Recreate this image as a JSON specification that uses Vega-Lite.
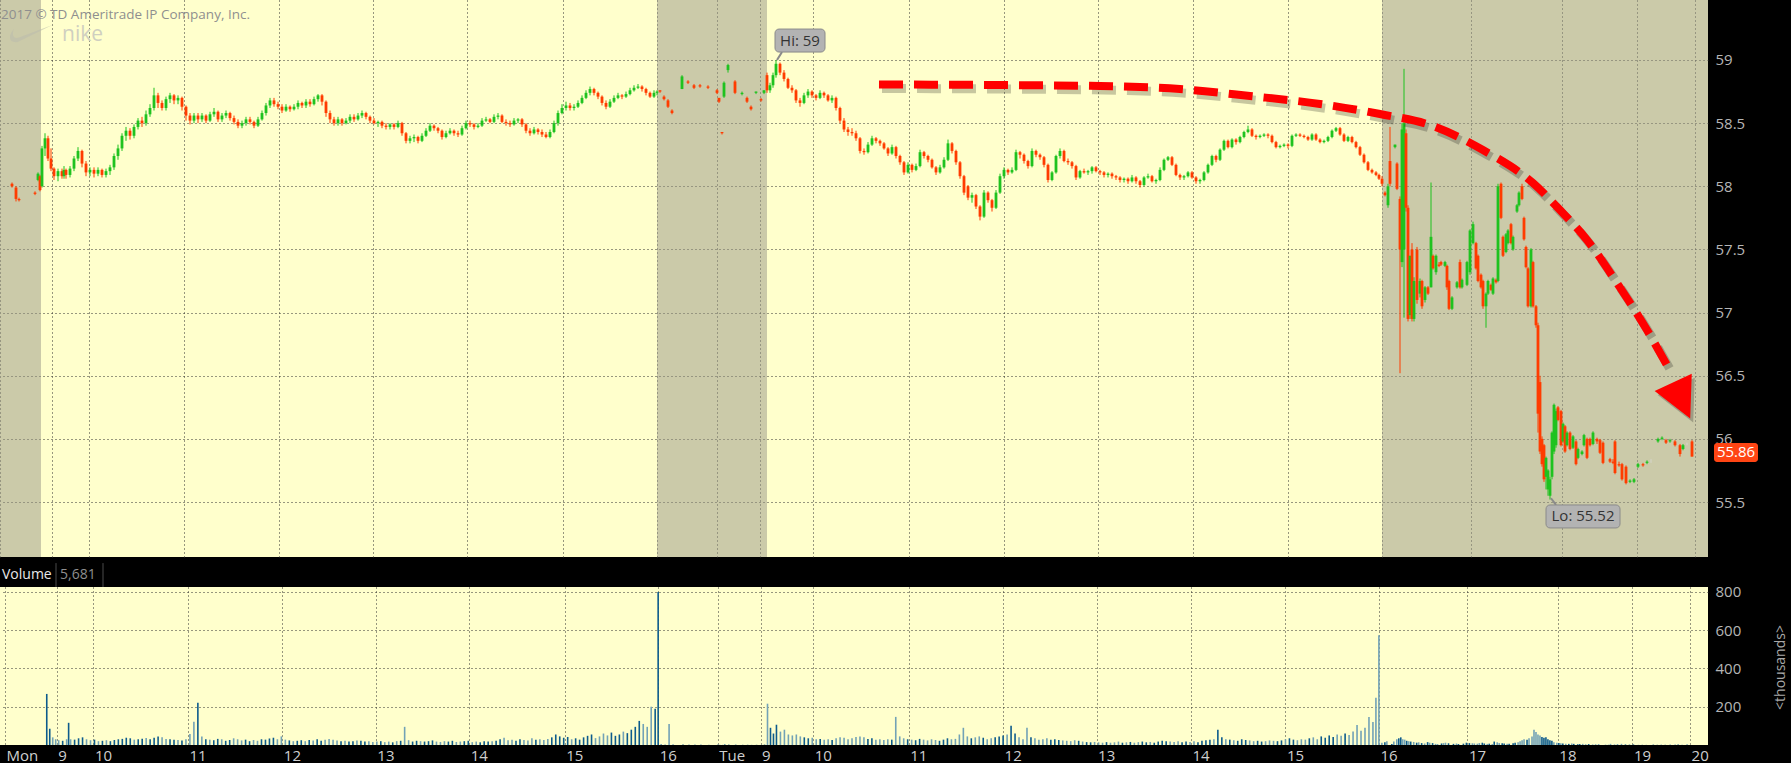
{
  "$schema": "https://vega.github.io/schema/vega-lite/v6.json",
  "background": "#000000",
  "padding": 0,
  "spacing": 30,
  "bounds": "flush",
  "config": {
    "font": "Open Sans",
    "axis": {"domain": false, "ticks": false, "gridColor": "#2e2e2e", "gridDash": [1, 3], "gridWidth": 1, "labelColor": "#b5b5b5", "labelFont": "Open Sans", "labelFontSize": 15, "titleColor": "#a8a8a8", "titleFont": "Open Sans", "titleFontSize": 14, "titleFontWeight": "normal"}
  },
  "datasets": {
    "candles": [
      {"t":12,"o":58.02,"h":58.03,"l":57.99,"c":58.0,"v":0},
      {"t":16,"o":57.99,"h":58.0,"l":57.88,"c":57.9,"v":0},
      {"t":19,"o":57.9,"h":57.91,"l":57.88,"c":57.89,"v":0},
      {"t":35,"o":57.95,"h":57.96,"l":57.93,"c":57.94,"v":0},
      {"t":38,"o":58.05,"h":58.11,"l":58.04,"c":58.1,"v":0},
      {"t":40,"o":58.08,"h":58.09,"l":57.96,"c":57.97,"v":0},
      {"t":42,"o":58.0,"h":58.32,"l":57.99,"c":58.3,"v":267},
      {"t":45,"o":58.3,"h":58.42,"l":58.24,"c":58.38,"v":85},
      {"t":48,"o":58.38,"h":58.4,"l":58.2,"c":58.22,"v":40},
      {"t":51,"o":58.22,"h":58.3,"l":58.12,"c":58.14,"v":30},
      {"t":54,"o":58.14,"h":58.15,"l":58.05,"c":58.08,"v":25},
      {"t":58,"o":58.08,"h":58.14,"l":58.04,"c":58.12,"v":22},
      {"t":62,"o":58.12,"h":58.14,"l":58.06,"c":58.08,"v":30},
      {"t":64,"o":58.08,"h":58.16,"l":58.06,"c":58.13,"v":116},
      {"t":66,"o":58.13,"h":58.14,"l":58.06,"c":58.09,"v":30},
      {"t":70,"o":58.09,"h":58.16,"l":58.07,"c":58.14,"v":28},
      {"t":74,"o":58.14,"h":58.24,"l":58.12,"c":58.22,"v":35},
      {"t":78,"o":58.22,"h":58.31,"l":58.2,"c":58.28,"v":40},
      {"t":82,"o":58.28,"h":58.29,"l":58.15,"c":58.18,"v":30},
      {"t":86,"o":58.18,"h":58.2,"l":58.08,"c":58.11,"v":25},
      {"t":90,"o":58.11,"h":58.15,"l":58.08,"c":58.13,"v":28},
      {"t":94,"o":58.13,"h":58.15,"l":58.07,"c":58.1,"v":20},
      {"t":98,"o":58.1,"h":58.15,"l":58.08,"c":58.13,"v":22},
      {"t":102,"o":58.13,"h":58.14,"l":58.07,"c":58.09,"v":25},
      {"t":106,"o":58.09,"h":58.14,"l":58.07,"c":58.12,"v":20},
      {"t":110,"o":58.12,"h":58.17,"l":58.09,"c":58.15,"v":26},
      {"t":114,"o":58.15,"h":58.26,"l":58.13,"c":58.24,"v":30},
      {"t":118,"o":58.24,"h":58.33,"l":58.21,"c":58.3,"v":32},
      {"t":122,"o":58.3,"h":58.42,"l":58.28,"c":58.4,"v":38},
      {"t":126,"o":58.4,"h":58.47,"l":58.36,"c":58.44,"v":35},
      {"t":130,"o":58.44,"h":58.46,"l":58.37,"c":58.4,"v":28},
      {"t":134,"o":58.4,"h":58.49,"l":58.38,"c":58.47,"v":30},
      {"t":138,"o":58.47,"h":58.54,"l":58.45,"c":58.52,"v":33},
      {"t":142,"o":58.52,"h":58.55,"l":58.47,"c":58.5,"v":36},
      {"t":146,"o":58.5,"h":58.6,"l":58.48,"c":58.57,"v":30},
      {"t":150,"o":58.57,"h":58.65,"l":58.55,"c":58.62,"v":38},
      {"t":154,"o":58.62,"h":58.78,"l":58.6,"c":58.72,"v":45},
      {"t":158,"o":58.72,"h":58.74,"l":58.62,"c":58.66,"v":40},
      {"t":162,"o":58.66,"h":58.68,"l":58.6,"c":58.62,"v":32},
      {"t":166,"o":58.62,"h":58.71,"l":58.6,"c":58.69,"v":30},
      {"t":170,"o":58.69,"h":58.74,"l":58.66,"c":58.72,"v":28},
      {"t":174,"o":58.72,"h":58.73,"l":58.65,"c":58.68,"v":26},
      {"t":178,"o":58.68,"h":58.72,"l":58.65,"c":58.7,"v":24},
      {"t":182,"o":58.7,"h":58.71,"l":58.6,"c":58.63,"v":30},
      {"t":186,"o":58.63,"h":58.64,"l":58.52,"c":58.56,"v":58},
      {"t":190,"o":58.56,"h":58.58,"l":58.49,"c":58.52,"v":121},
      {"t":194,"o":58.52,"h":58.58,"l":58.5,"c":58.56,"v":221},
      {"t":198,"o":58.56,"h":58.58,"l":58.5,"c":58.53,"v":45},
      {"t":202,"o":58.53,"h":58.58,"l":58.51,"c":58.56,"v":30},
      {"t":206,"o":58.56,"h":58.57,"l":58.5,"c":58.52,"v":28},
      {"t":210,"o":58.52,"h":58.59,"l":58.51,"c":58.57,"v":25},
      {"t":214,"o":58.57,"h":58.62,"l":58.55,"c":58.59,"v":32},
      {"t":218,"o":58.59,"h":58.6,"l":58.51,"c":58.53,"v":30},
      {"t":222,"o":58.53,"h":58.58,"l":58.51,"c":58.56,"v":22},
      {"t":226,"o":58.56,"h":58.6,"l":58.54,"c":58.58,"v":26},
      {"t":230,"o":58.58,"h":58.59,"l":58.52,"c":58.54,"v":35},
      {"t":234,"o":58.54,"h":58.56,"l":58.49,"c":58.51,"v":30},
      {"t":238,"o":58.51,"h":58.53,"l":58.46,"c":58.48,"v":24},
      {"t":242,"o":58.48,"h":58.52,"l":58.46,"c":58.5,"v":28},
      {"t":246,"o":58.5,"h":58.55,"l":58.48,"c":58.53,"v":20},
      {"t":250,"o":58.53,"h":58.55,"l":58.49,"c":58.51,"v":26},
      {"t":254,"o":58.51,"h":58.52,"l":58.46,"c":58.48,"v":22},
      {"t":258,"o":58.48,"h":58.55,"l":58.47,"c":58.53,"v":30},
      {"t":262,"o":58.53,"h":58.6,"l":58.52,"c":58.58,"v":28},
      {"t":266,"o":58.58,"h":58.66,"l":58.56,"c":58.64,"v":34},
      {"t":270,"o":58.64,"h":58.7,"l":58.62,"c":58.68,"v":38},
      {"t":274,"o":58.68,"h":58.7,"l":58.63,"c":58.65,"v":30},
      {"t":278,"o":58.65,"h":58.67,"l":58.61,"c":58.63,"v":45},
      {"t":282,"o":58.63,"h":58.65,"l":58.58,"c":58.6,"v":28},
      {"t":286,"o":58.6,"h":58.65,"l":58.59,"c":58.63,"v":24},
      {"t":290,"o":58.63,"h":58.64,"l":58.59,"c":58.61,"v":20},
      {"t":294,"o":58.61,"h":58.65,"l":58.6,"c":58.63,"v":22},
      {"t":298,"o":58.63,"h":58.68,"l":58.61,"c":58.66,"v":25},
      {"t":302,"o":58.66,"h":58.67,"l":58.62,"c":58.64,"v":20},
      {"t":306,"o":58.64,"h":58.69,"l":58.62,"c":58.67,"v":26},
      {"t":310,"o":58.67,"h":58.69,"l":58.63,"c":58.65,"v":24},
      {"t":314,"o":58.65,"h":58.71,"l":58.64,"c":58.69,"v":30},
      {"t":318,"o":58.69,"h":58.73,"l":58.67,"c":58.72,"v":22},
      {"t":322,"o":58.72,"h":58.73,"l":58.64,"c":58.67,"v":28},
      {"t":326,"o":58.67,"h":58.68,"l":58.55,"c":58.58,"v":32},
      {"t":330,"o":58.58,"h":58.6,"l":58.5,"c":58.53,"v":28},
      {"t":334,"o":58.53,"h":58.55,"l":58.48,"c":58.5,"v":24},
      {"t":338,"o":58.5,"h":58.55,"l":58.48,"c":58.53,"v":20},
      {"t":342,"o":58.53,"h":58.54,"l":58.48,"c":58.5,"v":22},
      {"t":346,"o":58.5,"h":58.54,"l":58.49,"c":58.52,"v":18},
      {"t":350,"o":58.52,"h":58.57,"l":58.5,"c":58.55,"v":20},
      {"t":354,"o":58.55,"h":58.57,"l":58.51,"c":58.53,"v":24},
      {"t":358,"o":58.53,"h":58.58,"l":58.52,"c":58.56,"v":22},
      {"t":362,"o":58.56,"h":58.6,"l":58.54,"c":58.58,"v":18},
      {"t":366,"o":58.58,"h":58.59,"l":58.53,"c":58.55,"v":20},
      {"t":370,"o":58.55,"h":58.56,"l":58.5,"c":58.52,"v":16},
      {"t":374,"o":58.52,"h":58.54,"l":58.49,"c":58.5,"v":18},
      {"t":378,"o":58.5,"h":58.52,"l":58.47,"c":58.51,"v":20},
      {"t":382,"o":58.51,"h":58.52,"l":58.46,"c":58.48,"v":15},
      {"t":386,"o":58.48,"h":58.5,"l":58.45,"c":58.47,"v":18},
      {"t":390,"o":58.47,"h":58.5,"l":58.45,"c":58.49,"v":14},
      {"t":394,"o":58.49,"h":58.5,"l":58.45,"c":58.47,"v":20},
      {"t":398,"o":58.47,"h":58.52,"l":58.46,"c":58.5,"v":22},
      {"t":402,"o":58.5,"h":58.51,"l":58.4,"c":58.42,"v":95},
      {"t":406,"o":58.42,"h":58.43,"l":58.34,"c":58.36,"v":25},
      {"t":410,"o":58.36,"h":58.4,"l":58.34,"c":58.38,"v":18},
      {"t":414,"o":58.38,"h":58.41,"l":58.35,"c":58.39,"v":22},
      {"t":418,"o":58.39,"h":58.4,"l":58.34,"c":58.36,"v":20},
      {"t":422,"o":58.36,"h":58.42,"l":58.35,"c":58.4,"v":18},
      {"t":426,"o":58.4,"h":58.46,"l":58.39,"c":58.44,"v":20},
      {"t":430,"o":58.44,"h":58.5,"l":58.43,"c":58.48,"v":24},
      {"t":434,"o":58.48,"h":58.49,"l":58.44,"c":58.46,"v":18},
      {"t":438,"o":58.46,"h":58.47,"l":58.42,"c":58.44,"v":16},
      {"t":442,"o":58.44,"h":58.45,"l":58.37,"c":58.39,"v":20},
      {"t":446,"o":58.39,"h":58.44,"l":58.38,"c":58.42,"v":18},
      {"t":450,"o":58.42,"h":58.46,"l":58.41,"c":58.44,"v":22},
      {"t":454,"o":58.44,"h":58.45,"l":58.4,"c":58.42,"v":16},
      {"t":458,"o":58.42,"h":58.44,"l":58.39,"c":58.41,"v":18},
      {"t":462,"o":58.41,"h":58.48,"l":58.4,"c":58.46,"v":20},
      {"t":466,"o":58.46,"h":58.52,"l":58.45,"c":58.5,"v":22},
      {"t":470,"o":58.5,"h":58.52,"l":58.47,"c":58.49,"v":15},
      {"t":474,"o":58.49,"h":58.5,"l":58.45,"c":58.47,"v":18},
      {"t":478,"o":58.47,"h":58.5,"l":58.46,"c":58.48,"v":14},
      {"t":482,"o":58.48,"h":58.54,"l":58.47,"c":58.52,"v":20},
      {"t":486,"o":58.52,"h":58.55,"l":58.51,"c":58.53,"v":18},
      {"t":490,"o":58.53,"h":58.54,"l":58.5,"c":58.51,"v":20},
      {"t":494,"o":58.51,"h":58.57,"l":58.5,"c":58.55,"v":22},
      {"t":498,"o":58.55,"h":58.58,"l":58.53,"c":58.56,"v":30},
      {"t":502,"o":58.56,"h":58.57,"l":58.5,"c":58.51,"v":38},
      {"t":506,"o":58.51,"h":58.53,"l":58.48,"c":58.5,"v":25},
      {"t":510,"o":58.5,"h":58.52,"l":58.47,"c":58.49,"v":28},
      {"t":514,"o":58.49,"h":58.54,"l":58.48,"c":58.52,"v":22},
      {"t":518,"o":58.52,"h":58.54,"l":58.5,"c":58.53,"v":30},
      {"t":522,"o":58.53,"h":58.54,"l":58.47,"c":58.49,"v":26},
      {"t":526,"o":58.49,"h":58.5,"l":58.42,"c":58.44,"v":24},
      {"t":530,"o":58.44,"h":58.46,"l":58.4,"c":58.42,"v":35},
      {"t":534,"o":58.42,"h":58.47,"l":58.41,"c":58.45,"v":28},
      {"t":538,"o":58.45,"h":58.46,"l":58.41,"c":58.43,"v":30},
      {"t":542,"o":58.43,"h":58.45,"l":58.39,"c":58.41,"v":26},
      {"t":546,"o":58.41,"h":58.43,"l":58.38,"c":58.39,"v":32},
      {"t":550,"o":58.39,"h":58.45,"l":58.38,"c":58.43,"v":40},
      {"t":554,"o":58.43,"h":58.52,"l":58.42,"c":58.5,"v":55},
      {"t":558,"o":58.5,"h":58.6,"l":58.48,"c":58.58,"v":45},
      {"t":562,"o":58.58,"h":58.65,"l":58.57,"c":58.62,"v":38},
      {"t":566,"o":58.62,"h":58.67,"l":58.6,"c":58.64,"v":42},
      {"t":570,"o":58.64,"h":58.66,"l":58.6,"c":58.62,"v":30},
      {"t":574,"o":58.62,"h":58.65,"l":58.6,"c":58.63,"v":35},
      {"t":578,"o":58.63,"h":58.68,"l":58.62,"c":58.66,"v":28},
      {"t":582,"o":58.66,"h":58.72,"l":58.65,"c":58.7,"v":40},
      {"t":586,"o":58.7,"h":58.76,"l":58.69,"c":58.74,"v":48},
      {"t":590,"o":58.74,"h":58.79,"l":58.72,"c":58.77,"v":55},
      {"t":594,"o":58.77,"h":58.78,"l":58.72,"c":58.74,"v":36},
      {"t":598,"o":58.74,"h":58.75,"l":58.69,"c":58.71,"v":45},
      {"t":602,"o":58.71,"h":58.72,"l":58.64,"c":58.66,"v":60},
      {"t":606,"o":58.66,"h":58.68,"l":58.61,"c":58.63,"v":50},
      {"t":610,"o":58.63,"h":58.69,"l":58.62,"c":58.67,"v":65},
      {"t":614,"o":58.67,"h":58.72,"l":58.66,"c":58.7,"v":48},
      {"t":618,"o":58.7,"h":58.74,"l":58.69,"c":58.72,"v":55},
      {"t":622,"o":58.72,"h":58.73,"l":58.69,"c":58.71,"v":70},
      {"t":626,"o":58.71,"h":58.75,"l":58.7,"c":58.73,"v":62},
      {"t":630,"o":58.73,"h":58.78,"l":58.72,"c":58.76,"v":80},
      {"t":634,"o":58.76,"h":58.8,"l":58.75,"c":58.78,"v":95},
      {"t":638,"o":58.78,"h":58.81,"l":58.77,"c":58.79,"v":126},
      {"t":642,"o":58.79,"h":58.8,"l":58.75,"c":58.77,"v":110},
      {"t":646,"o":58.77,"h":58.78,"l":58.72,"c":58.74,"v":95},
      {"t":650,"o":58.74,"h":58.75,"l":58.7,"c":58.71,"v":200},
      {"t":654,"o":58.71,"h":58.76,"l":58.7,"c":58.74,"v":190},
      {"t":657,"o":58.74,"h":58.76,"l":58.72,"c":58.75,"v":800},
      {"t":660,"o":58.76,"h":58.76,"l":58.74,"c":58.75,"v":5},
      {"t":664,"o":58.71,"h":58.72,"l":58.68,"c":58.69,"v":3},
      {"t":668,"o":58.68,"h":58.69,"l":58.62,"c":58.63,"v":110},
      {"t":672,"o":58.6,"h":58.61,"l":58.57,"c":58.58,"v":4},
      {"t":682,"o":58.77,"h":58.88,"l":58.77,"c":58.87,"v":3},
      {"t":688,"o":58.83,"h":58.84,"l":58.81,"c":58.82,"v":2},
      {"t":694,"o":58.8,"h":58.81,"l":58.77,"c":58.78,"v":2},
      {"t":700,"o":58.8,"h":58.81,"l":58.78,"c":58.79,"v":2},
      {"t":708,"o":58.79,"h":58.8,"l":58.77,"c":58.78,"v":1},
      {"t":717,"o":58.76,"h":58.77,"l":58.73,"c":58.74,"v":2},
      {"t":719,"o":58.7,"h":58.7,"l":58.66,"c":58.67,"v":1},
      {"t":722,"o":58.43,"h":58.43,"l":58.41,"c":58.42,"v":1},
      {"t":724,"o":58.71,"h":58.83,"l":58.7,"c":58.82,"v":3},
      {"t":728,"o":58.92,"h":58.97,"l":58.9,"c":58.96,"v":2},
      {"t":735,"o":58.83,"h":58.84,"l":58.73,"c":58.74,"v":3},
      {"t":742,"o":58.73,"h":58.75,"l":58.72,"c":58.74,"v":1},
      {"t":747,"o":58.7,"h":58.71,"l":58.66,"c":58.67,"v":2},
      {"t":751,"o":58.63,"h":58.64,"l":58.6,"c":58.61,"v":1},
      {"t":756,"o":58.74,"h":58.75,"l":58.73,"c":58.75,"v":1},
      {"t":761,"o":58.69,"h":58.7,"l":58.67,"c":58.68,"v":1},
      {"t":764,"o":58.74,"h":58.76,"l":58.73,"c":58.76,"v":2},
      {"t":767,"o":58.88,"h":58.9,"l":58.74,"c":58.76,"v":216},
      {"t":770,"o":58.76,"h":58.82,"l":58.74,"c":58.8,"v":90},
      {"t":773,"o":58.8,"h":58.9,"l":58.78,"c":58.88,"v":60},
      {"t":776,"o":58.88,"h":59.0,"l":58.86,"c":58.97,"v":106},
      {"t":780,"o":58.97,"h":58.98,"l":58.88,"c":58.9,"v":70},
      {"t":784,"o":58.9,"h":58.92,"l":58.83,"c":58.85,"v":80},
      {"t":788,"o":58.85,"h":58.86,"l":58.77,"c":58.78,"v":55},
      {"t":792,"o":58.78,"h":58.8,"l":58.74,"c":58.76,"v":50},
      {"t":796,"o":58.76,"h":58.77,"l":58.66,"c":58.68,"v":55},
      {"t":800,"o":58.68,"h":58.7,"l":58.63,"c":58.66,"v":45},
      {"t":804,"o":58.66,"h":58.74,"l":58.65,"c":58.72,"v":40},
      {"t":808,"o":58.72,"h":58.77,"l":58.7,"c":58.75,"v":35},
      {"t":812,"o":58.75,"h":58.76,"l":58.7,"c":58.72,"v":38},
      {"t":816,"o":58.72,"h":58.73,"l":58.68,"c":58.7,"v":30},
      {"t":820,"o":58.7,"h":58.76,"l":58.69,"c":58.74,"v":32},
      {"t":824,"o":58.74,"h":58.75,"l":58.7,"c":58.72,"v":28},
      {"t":828,"o":58.72,"h":58.73,"l":58.67,"c":58.68,"v":30},
      {"t":832,"o":58.68,"h":58.72,"l":58.66,"c":58.7,"v":26},
      {"t":836,"o":58.7,"h":58.71,"l":58.6,"c":58.62,"v":35},
      {"t":840,"o":58.62,"h":58.63,"l":58.5,"c":58.52,"v":40},
      {"t":844,"o":58.52,"h":58.54,"l":58.43,"c":58.45,"v":38},
      {"t":848,"o":58.45,"h":58.47,"l":58.4,"c":58.43,"v":30},
      {"t":852,"o":58.43,"h":58.46,"l":58.4,"c":58.42,"v":35},
      {"t":856,"o":58.42,"h":58.44,"l":58.36,"c":58.38,"v":42},
      {"t":860,"o":58.38,"h":58.39,"l":58.26,"c":58.28,"v":45},
      {"t":864,"o":58.28,"h":58.3,"l":58.25,"c":58.27,"v":40},
      {"t":868,"o":58.27,"h":58.35,"l":58.26,"c":58.33,"v":32},
      {"t":872,"o":58.33,"h":58.4,"l":58.32,"c":58.38,"v":35},
      {"t":876,"o":58.38,"h":58.39,"l":58.34,"c":58.36,"v":28},
      {"t":880,"o":58.36,"h":58.37,"l":58.32,"c":58.34,"v":30},
      {"t":884,"o":58.34,"h":58.35,"l":58.29,"c":58.3,"v":26},
      {"t":888,"o":58.3,"h":58.31,"l":58.24,"c":58.26,"v":30},
      {"t":892,"o":58.26,"h":58.33,"l":58.25,"c":58.31,"v":28},
      {"t":896,"o":58.31,"h":58.32,"l":58.22,"c":58.24,"v":147},
      {"t":900,"o":58.24,"h":58.25,"l":58.17,"c":58.19,"v":45},
      {"t":904,"o":58.19,"h":58.2,"l":58.09,"c":58.11,"v":35},
      {"t":908,"o":58.11,"h":58.19,"l":58.1,"c":58.17,"v":30},
      {"t":912,"o":58.17,"h":58.18,"l":58.11,"c":58.13,"v":28},
      {"t":916,"o":58.13,"h":58.18,"l":58.12,"c":58.16,"v":25},
      {"t":920,"o":58.16,"h":58.29,"l":58.15,"c":58.27,"v":32},
      {"t":924,"o":58.27,"h":58.28,"l":58.22,"c":58.24,"v":28},
      {"t":928,"o":58.24,"h":58.25,"l":58.19,"c":58.21,"v":24},
      {"t":932,"o":58.21,"h":58.22,"l":58.14,"c":58.15,"v":30},
      {"t":936,"o":58.15,"h":58.16,"l":58.09,"c":58.11,"v":26},
      {"t":940,"o":58.11,"h":58.17,"l":58.1,"c":58.15,"v":22},
      {"t":944,"o":58.15,"h":58.23,"l":58.14,"c":58.21,"v":28},
      {"t":948,"o":58.21,"h":58.37,"l":58.2,"c":58.34,"v":35},
      {"t":952,"o":58.34,"h":58.35,"l":58.26,"c":58.28,"v":30},
      {"t":956,"o":58.28,"h":58.29,"l":58.17,"c":58.19,"v":32},
      {"t":960,"o":58.19,"h":58.2,"l":58.06,"c":58.08,"v":55},
      {"t":964,"o":58.08,"h":58.09,"l":57.93,"c":57.95,"v":90},
      {"t":968,"o":58.0,"h":58.01,"l":57.89,"c":57.91,"v":45},
      {"t":972,"o":57.91,"h":57.95,"l":57.87,"c":57.93,"v":35},
      {"t":976,"o":57.93,"h":57.94,"l":57.82,"c":57.84,"v":40},
      {"t":980,"o":57.84,"h":57.85,"l":57.73,"c":57.76,"v":45},
      {"t":984,"o":57.76,"h":57.97,"l":57.75,"c":57.95,"v":38},
      {"t":988,"o":57.95,"h":57.96,"l":57.87,"c":57.89,"v":30},
      {"t":992,"o":57.89,"h":57.9,"l":57.8,"c":57.83,"v":35},
      {"t":996,"o":57.83,"h":57.97,"l":57.82,"c":57.95,"v":40},
      {"t":1000,"o":57.95,"h":58.1,"l":57.94,"c":58.08,"v":45},
      {"t":1004,"o":58.08,"h":58.15,"l":58.06,"c":58.13,"v":50},
      {"t":1008,"o":58.13,"h":58.14,"l":58.09,"c":58.11,"v":55},
      {"t":1012,"o":58.11,"h":58.15,"l":58.1,"c":58.13,"v":100},
      {"t":1016,"o":58.13,"h":58.29,"l":58.12,"c":58.27,"v":60},
      {"t":1020,"o":58.27,"h":58.28,"l":58.22,"c":58.25,"v":40},
      {"t":1024,"o":58.25,"h":58.26,"l":58.18,"c":58.2,"v":30},
      {"t":1028,"o":58.2,"h":58.21,"l":58.14,"c":58.16,"v":90},
      {"t":1032,"o":58.16,"h":58.3,"l":58.15,"c":58.28,"v":40},
      {"t":1036,"o":58.28,"h":58.29,"l":58.23,"c":58.25,"v":35},
      {"t":1040,"o":58.25,"h":58.26,"l":58.21,"c":58.23,"v":28},
      {"t":1044,"o":58.23,"h":58.24,"l":58.15,"c":58.17,"v":30},
      {"t":1048,"o":58.17,"h":58.18,"l":58.03,"c":58.05,"v":35},
      {"t":1052,"o":58.05,"h":58.12,"l":58.04,"c":58.11,"v":28},
      {"t":1056,"o":58.11,"h":58.25,"l":58.1,"c":58.24,"v":30},
      {"t":1060,"o":58.24,"h":58.3,"l":58.22,"c":58.28,"v":26},
      {"t":1064,"o":58.28,"h":58.29,"l":58.19,"c":58.2,"v":24},
      {"t":1068,"o":58.2,"h":58.22,"l":58.17,"c":58.19,"v":22},
      {"t":1072,"o":58.19,"h":58.2,"l":58.14,"c":58.16,"v":20},
      {"t":1076,"o":58.16,"h":58.17,"l":58.05,"c":58.07,"v":25},
      {"t":1080,"o":58.07,"h":58.13,"l":58.06,"c":58.12,"v":22},
      {"t":1084,"o":58.12,"h":58.14,"l":58.1,"c":58.11,"v":18},
      {"t":1088,"o":58.11,"h":58.13,"l":58.09,"c":58.12,"v":15},
      {"t":1092,"o":58.12,"h":58.16,"l":58.1,"c":58.15,"v":14},
      {"t":1096,"o":58.15,"h":58.16,"l":58.11,"c":58.12,"v":16},
      {"t":1100,"o":58.12,"h":58.13,"l":58.09,"c":58.11,"v":14},
      {"t":1104,"o":58.11,"h":58.12,"l":58.07,"c":58.09,"v":12},
      {"t":1108,"o":58.09,"h":58.11,"l":58.07,"c":58.1,"v":15},
      {"t":1112,"o":58.1,"h":58.11,"l":58.06,"c":58.08,"v":12},
      {"t":1116,"o":58.08,"h":58.09,"l":58.05,"c":58.07,"v":14},
      {"t":1120,"o":58.07,"h":58.08,"l":58.03,"c":58.05,"v":18},
      {"t":1124,"o":58.05,"h":58.07,"l":58.03,"c":58.06,"v":12},
      {"t":1128,"o":58.06,"h":58.07,"l":58.02,"c":58.04,"v":14},
      {"t":1132,"o":58.04,"h":58.09,"l":58.03,"c":58.07,"v":16},
      {"t":1136,"o":58.07,"h":58.08,"l":58.02,"c":58.04,"v":12},
      {"t":1140,"o":58.04,"h":58.05,"l":57.99,"c":58.01,"v":15},
      {"t":1144,"o":58.01,"h":58.08,"l":58.0,"c":58.07,"v":18},
      {"t":1148,"o":58.07,"h":58.1,"l":58.06,"c":58.08,"v":14},
      {"t":1152,"o":58.08,"h":58.09,"l":58.03,"c":58.04,"v":16},
      {"t":1156,"o":58.04,"h":58.06,"l":58.02,"c":58.05,"v":12},
      {"t":1160,"o":58.05,"h":58.15,"l":58.04,"c":58.13,"v":18},
      {"t":1164,"o":58.13,"h":58.22,"l":58.12,"c":58.21,"v":22},
      {"t":1168,"o":58.21,"h":58.24,"l":58.2,"c":58.23,"v":20},
      {"t":1172,"o":58.23,"h":58.24,"l":58.16,"c":58.17,"v":18},
      {"t":1176,"o":58.17,"h":58.18,"l":58.08,"c":58.09,"v":16},
      {"t":1180,"o":58.09,"h":58.1,"l":58.05,"c":58.07,"v":20},
      {"t":1184,"o":58.07,"h":58.09,"l":58.05,"c":58.08,"v":14},
      {"t":1188,"o":58.08,"h":58.12,"l":58.07,"c":58.11,"v":18},
      {"t":1192,"o":58.11,"h":58.12,"l":58.06,"c":58.07,"v":16},
      {"t":1196,"o":58.07,"h":58.08,"l":58.02,"c":58.04,"v":20},
      {"t":1200,"o":58.04,"h":58.06,"l":58.02,"c":58.05,"v":15},
      {"t":1204,"o":58.05,"h":58.12,"l":58.04,"c":58.11,"v":22},
      {"t":1208,"o":58.11,"h":58.18,"l":58.1,"c":58.17,"v":25},
      {"t":1212,"o":58.17,"h":58.25,"l":58.16,"c":58.24,"v":28},
      {"t":1216,"o":58.24,"h":58.25,"l":58.19,"c":58.21,"v":30},
      {"t":1220,"o":58.21,"h":58.3,"l":58.2,"c":58.29,"v":80},
      {"t":1224,"o":58.29,"h":58.37,"l":58.28,"c":58.36,"v":40},
      {"t":1228,"o":58.36,"h":58.37,"l":58.3,"c":58.31,"v":30},
      {"t":1232,"o":58.31,"h":58.38,"l":58.3,"c":58.37,"v":28},
      {"t":1236,"o":58.37,"h":58.38,"l":58.33,"c":58.35,"v":25},
      {"t":1240,"o":58.35,"h":58.4,"l":58.34,"c":58.39,"v":22},
      {"t":1244,"o":58.39,"h":58.44,"l":58.38,"c":58.43,"v":30},
      {"t":1248,"o":58.43,"h":58.48,"l":58.42,"c":58.45,"v":26},
      {"t":1252,"o":58.45,"h":58.46,"l":58.39,"c":58.4,"v":24},
      {"t":1256,"o":58.4,"h":58.41,"l":58.37,"c":58.39,"v":20},
      {"t":1260,"o":58.39,"h":58.41,"l":58.38,"c":58.4,"v":22},
      {"t":1264,"o":58.4,"h":58.42,"l":58.39,"c":58.41,"v":18},
      {"t":1268,"o":58.41,"h":58.42,"l":58.38,"c":58.4,"v":20},
      {"t":1272,"o":58.4,"h":58.41,"l":58.34,"c":58.35,"v":24},
      {"t":1276,"o":58.35,"h":58.36,"l":58.3,"c":58.31,"v":22},
      {"t":1280,"o":58.31,"h":58.33,"l":58.3,"c":58.32,"v":20},
      {"t":1284,"o":58.32,"h":58.34,"l":58.31,"c":58.33,"v":24},
      {"t":1288,"o":58.33,"h":58.34,"l":58.3,"c":58.32,"v":30},
      {"t":1292,"o":58.32,"h":58.41,"l":58.31,"c":58.4,"v":35},
      {"t":1296,"o":58.4,"h":58.42,"l":58.39,"c":58.41,"v":28},
      {"t":1300,"o":58.41,"h":58.42,"l":58.39,"c":58.4,"v":25},
      {"t":1304,"o":58.4,"h":58.41,"l":58.38,"c":58.39,"v":30},
      {"t":1308,"o":58.39,"h":58.4,"l":58.36,"c":58.37,"v":28},
      {"t":1312,"o":58.37,"h":58.42,"l":58.36,"c":58.41,"v":35},
      {"t":1316,"o":58.41,"h":58.42,"l":58.36,"c":58.37,"v":40},
      {"t":1320,"o":58.37,"h":58.38,"l":58.34,"c":58.35,"v":30},
      {"t":1324,"o":58.35,"h":58.37,"l":58.34,"c":58.36,"v":45},
      {"t":1328,"o":58.36,"h":58.4,"l":58.35,"c":58.39,"v":38},
      {"t":1332,"o":58.39,"h":58.45,"l":58.38,"c":58.44,"v":50},
      {"t":1336,"o":58.44,"h":58.47,"l":58.43,"c":58.46,"v":42},
      {"t":1340,"o":58.46,"h":58.47,"l":58.4,"c":58.41,"v":55},
      {"t":1344,"o":58.41,"h":58.42,"l":58.35,"c":58.36,"v":48},
      {"t":1348,"o":58.36,"h":58.4,"l":58.35,"c":58.39,"v":60},
      {"t":1352,"o":58.39,"h":58.4,"l":58.34,"c":58.35,"v":52},
      {"t":1356,"o":58.35,"h":58.36,"l":58.3,"c":58.31,"v":70},
      {"t":1360,"o":58.31,"h":58.32,"l":58.24,"c":58.25,"v":105},
      {"t":1364,"o":58.25,"h":58.26,"l":58.18,"c":58.19,"v":75},
      {"t":1368,"o":58.19,"h":58.2,"l":58.12,"c":58.13,"v":90},
      {"t":1372,"o":58.13,"h":58.14,"l":58.1,"c":58.11,"v":147},
      {"t":1376,"o":58.11,"h":58.12,"l":58.08,"c":58.09,"v":120},
      {"t":1379,"o":58.09,"h":58.1,"l":58.05,"c":58.06,"v":247},
      {"t":1382,"o":58.06,"h":58.08,"l":58.0,"c":58.02,"v":574},
      {"t":1385,"o":57.95,"h":57.96,"l":57.92,"c":57.93,"v":12},
      {"t":1388,"o":57.85,"h":58.02,"l":57.83,"c":58.0,"v":15},
      {"t":1390,"o":58.2,"h":58.47,"l":58.0,"c":58.02,"v":20},
      {"t":1395,"o":58.31,"h":58.33,"l":58.3,"c":58.33,"v":5},
      {"t":1397,"o":58.18,"h":58.19,"l":57.97,"c":57.98,"v":18},
      {"t":1400,"o":57.9,"h":57.92,"l":56.52,"c":57.5,"v":30},
      {"t":1402,"o":57.4,"h":58.5,"l":57.36,"c":58.45,"v":35},
      {"t":1404,"o":57.5,"h":58.93,"l":56.96,"c":58.5,"v":40},
      {"t":1406,"o":58.42,"h":58.45,"l":57.8,"c":57.83,"v":30},
      {"t":1408,"o":57.83,"h":57.85,"l":56.93,"c":56.95,"v":28},
      {"t":1410,"o":56.98,"h":57.45,"l":56.95,"c":57.45,"v":22},
      {"t":1412,"o":57.5,"h":57.55,"l":56.93,"c":56.95,"v":20},
      {"t":1414,"o":56.95,"h":57.28,"l":56.93,"c":57.25,"v":18},
      {"t":1417,"o":57.5,"h":57.52,"l":57.07,"c":57.1,"v":16},
      {"t":1420,"o":57.15,"h":57.27,"l":57.12,"c":57.25,"v":12},
      {"t":1422,"o":57.25,"h":57.26,"l":57.03,"c":57.05,"v":14},
      {"t":1425,"o":57.1,"h":57.21,"l":57.08,"c":57.2,"v":10},
      {"t":1428,"o":57.2,"h":57.21,"l":57.14,"c":57.15,"v":8},
      {"t":1431,"o":57.2,"h":58.03,"l":57.2,"c":57.6,"v":15},
      {"t":1433,"o":57.45,"h":57.46,"l":57.34,"c":57.35,"v":12},
      {"t":1436,"o":57.32,"h":57.46,"l":57.3,"c":57.45,"v":10},
      {"t":1439,"o":57.38,"h":57.4,"l":57.36,"c":57.37,"v":6},
      {"t":1441,"o":57.4,"h":57.41,"l":57.37,"c":57.38,"v":5},
      {"t":1445,"o":57.37,"h":57.41,"l":57.36,"c":57.4,"v":8},
      {"t":1447,"o":57.37,"h":57.38,"l":57.18,"c":57.2,"v":10},
      {"t":1449,"o":57.25,"h":57.26,"l":57.02,"c":57.03,"v":12},
      {"t":1452,"o":57.03,"h":57.13,"l":57.02,"c":57.12,"v":9},
      {"t":1457,"o":57.2,"h":57.25,"l":57.19,"c":57.24,"v":6},
      {"t":1460,"o":57.4,"h":57.42,"l":57.19,"c":57.2,"v":8},
      {"t":1462,"o":57.2,"h":57.27,"l":57.19,"c":57.26,"v":5},
      {"t":1467,"o":57.22,"h":57.41,"l":57.21,"c":57.4,"v":7},
      {"t":1470,"o":57.32,"h":57.66,"l":57.3,"c":57.65,"v":12},
      {"t":1473,"o":57.55,"h":57.72,"l":57.54,"c":57.7,"v":10},
      {"t":1476,"o":57.55,"h":57.56,"l":57.34,"c":57.35,"v":9},
      {"t":1478,"o":57.45,"h":57.46,"l":57.24,"c":57.25,"v":8},
      {"t":1481,"o":57.3,"h":57.31,"l":57.19,"c":57.2,"v":7},
      {"t":1483,"o":57.25,"h":57.26,"l":57.03,"c":57.05,"v":10},
      {"t":1486,"o":57.05,"h":57.16,"l":56.88,"c":57.15,"v":12},
      {"t":1488,"o":57.15,"h":57.26,"l":57.14,"c":57.25,"v":8},
      {"t":1491,"o":57.22,"h":57.23,"l":57.17,"c":57.18,"v":6},
      {"t":1493,"o":57.15,"h":57.28,"l":57.14,"c":57.27,"v":7},
      {"t":1496,"o":57.26,"h":57.27,"l":57.23,"c":57.24,"v":5},
      {"t":1498,"o":57.25,"h":58.02,"l":57.24,"c":58.0,"v":18},
      {"t":1501,"o":58.02,"h":58.03,"l":57.74,"c":57.75,"v":14},
      {"t":1503,"o":57.6,"h":57.61,"l":57.44,"c":57.45,"v":10},
      {"t":1506,"o":57.48,"h":57.63,"l":57.47,"c":57.62,"v":9},
      {"t":1508,"o":57.55,"h":57.66,"l":57.54,"c":57.65,"v":8},
      {"t":1511,"o":57.7,"h":57.71,"l":57.54,"c":57.55,"v":7},
      {"t":1513,"o":57.5,"h":57.61,"l":57.49,"c":57.6,"v":6},
      {"t":1517,"o":57.8,"h":57.86,"l":57.79,"c":57.85,"v":9},
      {"t":1519,"o":57.85,"h":57.96,"l":57.84,"c":57.95,"v":12},
      {"t":1522,"o":58.0,"h":58.02,"l":57.89,"c":57.9,"v":15},
      {"t":1524,"o":57.75,"h":57.76,"l":57.57,"c":57.58,"v":20},
      {"t":1526,"o":57.52,"h":57.53,"l":57.35,"c":57.36,"v":25},
      {"t":1528,"o":57.35,"h":57.36,"l":57.04,"c":57.05,"v":30},
      {"t":1531,"o":57.05,"h":57.51,"l":57.04,"c":57.5,"v":28},
      {"t":1533,"o":57.4,"h":57.41,"l":57.04,"c":57.05,"v":35},
      {"t":1536,"o":57.05,"h":57.06,"l":56.88,"c":56.9,"v":45},
      {"t":1538,"o":56.9,"h":56.92,"l":56.05,"c":56.2,"v":80},
      {"t":1540,"o":56.45,"h":56.5,"l":55.88,"c":55.9,"v":68},
      {"t":1542,"o":56.0,"h":56.02,"l":55.78,"c":55.8,"v":55},
      {"t":1544,"o":55.95,"h":55.96,"l":55.66,"c":55.68,"v":50},
      {"t":1546,"o":55.7,"h":55.86,"l":55.6,"c":55.85,"v":42},
      {"t":1548,"o":55.6,"h":55.76,"l":55.55,"c":55.75,"v":38},
      {"t":1550,"o":55.55,"h":55.7,"l":55.52,"c":55.68,"v":40},
      {"t":1552,"o":55.7,"h":56.06,"l":55.68,"c":56.05,"v":30},
      {"t":1554,"o":55.9,"h":56.28,"l":55.88,"c":56.27,"v":25},
      {"t":1556,"o":55.95,"h":56.24,"l":55.93,"c":56.22,"v":22},
      {"t":1558,"o":56.25,"h":56.26,"l":56.14,"c":56.15,"v":15},
      {"t":1561,"o":56.22,"h":56.23,"l":55.94,"c":55.95,"v":12},
      {"t":1563,"o":55.98,"h":56.13,"l":55.97,"c":56.12,"v":10},
      {"t":1565,"o":56.1,"h":56.11,"l":55.89,"c":55.9,"v":9},
      {"t":1567,"o":55.95,"h":56.06,"l":55.94,"c":56.05,"v":8},
      {"t":1570,"o":56.05,"h":56.06,"l":55.91,"c":55.92,"v":7},
      {"t":1573,"o":55.93,"h":56.03,"l":55.92,"c":56.02,"v":6},
      {"t":1576,"o":55.98,"h":55.99,"l":55.79,"c":55.8,"v":8},
      {"t":1578,"o":55.85,"h":55.93,"l":55.84,"c":55.92,"v":6},
      {"t":1582,"o":55.88,"h":55.91,"l":55.87,"c":55.9,"v":4},
      {"t":1584,"o":55.95,"h":56.04,"l":55.94,"c":56.03,"v":5},
      {"t":1587,"o":56.0,"h":56.01,"l":55.84,"c":55.85,"v":6},
      {"t":1590,"o":56.0,"h":56.01,"l":55.94,"c":55.95,"v":4},
      {"t":1593,"o":55.96,"h":56.06,"l":55.95,"c":56.05,"v":5},
      {"t":1597,"o":56.0,"h":56.01,"l":55.96,"c":55.98,"v":3},
      {"t":1600,"o":55.99,"h":56.0,"l":55.88,"c":55.89,"v":4},
      {"t":1603,"o":55.97,"h":55.98,"l":55.8,"c":55.81,"v":5},
      {"t":1610,"o":55.84,"h":55.85,"l":55.81,"c":55.82,"v":2},
      {"t":1613,"o":55.82,"h":55.84,"l":55.8,"c":55.81,"v":2},
      {"t":1615,"o":55.98,"h":55.99,"l":55.72,"c":55.73,"v":6},
      {"t":1619,"o":55.8,"h":55.82,"l":55.78,"c":55.79,"v":3},
      {"t":1622,"o":55.8,"h":55.81,"l":55.67,"c":55.68,"v":5},
      {"t":1626,"o":55.78,"h":55.79,"l":55.64,"c":55.65,"v":6},
      {"t":1630,"o":55.66,"h":55.68,"l":55.65,"c":55.67,"v":3},
      {"t":1634,"o":55.66,"h":55.69,"l":55.65,"c":55.68,"v":2},
      {"t":1638,"o":55.78,"h":55.81,"l":55.77,"c":55.8,"v":3},
      {"t":1643,"o":55.8,"h":55.81,"l":55.78,"c":55.79,"v":1},
      {"t":1647,"o":55.81,"h":55.83,"l":55.8,"c":55.82,"v":1},
      {"t":1651,"o":55.83,"h":55.84,"l":55.81,"c":55.83,"v":1},
      {"t":1658,"o":55.98,"h":56.01,"l":55.97,"c":56.0,"v":2},
      {"t":1662,"o":56.0,"h":56.02,"l":55.99,"c":56.01,"v":1},
      {"t":1666,"o":55.99,"h":56.0,"l":55.96,"c":55.97,"v":2},
      {"t":1670,"o":55.98,"h":56.0,"l":55.97,"c":55.99,"v":1},
      {"t":1675,"o":55.98,"h":55.99,"l":55.94,"c":55.95,"v":2},
      {"t":1680,"o":55.95,"h":55.96,"l":55.86,"c":55.88,"v":3},
      {"t":1683,"o":55.92,"h":55.96,"l":55.91,"c":55.95,"v":2},
      {"t":1687,"o":55.96,"h":55.97,"l":55.95,"c":55.96,"v":1},
      {"t":1692,"o":55.98,"h":55.99,"l":55.86,"c":55.86,"v":4}
    ],
    "shade": [{"t":0,"t2":41},{"t":657,"t2":767},{"t":1382,"t2":1708}],
    "curve": [
      {"t":879,"p":58.806},{"t":1000,"p":58.802},{"t":1100,"p":58.794},{"t":1180,"p":58.77},
      {"t":1250,"p":58.715},{"t":1320,"p":58.652},{"t":1380,"p":58.572},{"t":1430,"p":58.485},
      {"t":1483,"p":58.287},{"t":1533,"p":58.026},{"t":1560,"p":57.812},{"t":1587,"p":57.575},
      {"t":1617,"p":57.234},{"t":1647,"p":56.862},{"t":1668,"p":56.569}
    ],
    "arrowhead": [{"t":1681.5,"p":56.308}],
    "callouts": [
      {"t":775,"t2":825,"p":59.245,"p2":59.063,"tc":800,"pc":59.154,"px":782,"py":59.063,"qx":777,"qy":59.0,"txt":"Hi: 59"},
      {"t":1546,"t2":1620,"p":55.477,"p2":55.295,"tc":1583,"pc":55.386,"px":1556,"py":55.477,"qx":1551,"qy":55.53,"txt":"Lo: 55.52"}
    ],
    "badge": [{"t":1714,"t2":1758,"p":55.968,"p2":55.817,"tc":1736,"pc":55.893,"txt":"55.86"}],
    "watermark": [{"t":1,"p":59.356,"txt":"2017 © TD Ameritrade IP Company, Inc."}],
    "logo": [{"t":30,"p":59.21,"txt":"nike","tx":62,"pt":59.2}],
    "separators": [{"p":55.065},{"p":55.017},{"p":54.8275}],
    "header": [
      {"t":2,"p":54.9225,"txt":"Volume"},
      {"t":60,"p":54.9225,"txt":"5,681"}
    ],
    "headerbox": [{"t":56,"p":55.017,"p2":54.8275},{"t":103,"p":55.017,"p2":54.8275}]
  },
  "vconcat": [
    {
      "width": 1708,
      "height": 557,
      "view": {"fill": "#ffffcc", "stroke": null},
      "encoding": {
        "x": {
          "field": "t", "type": "quantitative",
          "scale": {"domain": [0, 1708], "nice": false, "zero": false},
          "axis": {"title": null, "labels": false, "grid": true, "minExtent": 0, "maxExtent": 0,
                   "values": [0, 52, 89, 184, 279, 373, 467, 563, 657, 717, 760, 813, 909, 1004, 1098, 1193, 1288, 1382, 1471, 1562, 1637, 1695]}
        }
      },
      "layer": [
        {
          "data": {"name": "shade"},
          "mark": {"type": "rect", "color": "#979586", "opacity": 0.5},
          "encoding": {"x2": {"field": "t2"}}
        },
        {
          "data": {"name": "candles"},
          "mark": {"type": "rule", "strokeWidth": 1},
          "encoding": {
            "y": {"field": "l", "type": "quantitative", "title": null, "scale": {"domain": [55.065, 59.475], "nice": false, "zero": false},
                  "axis": {"orient": "right", "title": null, "grid": true, "values": [55.5, 56, 56.5, 57, 57.5, 58, 58.5, 59], "format": ".1~f", "labelPadding": 7, "minExtent": 83, "maxExtent": 83}},
            "y2": {"field": "h"},
            "color": {"condition": [{"test": "datum.c > datum.o", "value": "#1fc21f"}, {"test": "datum.c < datum.o", "value": "#ff3c00"}], "value": "#d5d5cc"}
          }
        },
        {
          "data": {"name": "candles"},
          "mark": {"type": "rule", "strokeWidth": 2.8, "strokeCap": "butt"},
          "encoding": {
            "y": {"field": "o", "type": "quantitative", "title": null},
            "y2": {"field": "c"},
            "color": {"condition": [{"test": "datum.c > datum.o", "value": "#1fc21f"}, {"test": "datum.c < datum.o", "value": "#ff3c00"}], "value": "#d5d5cc"}
          }
        },
        {
          "data": {"name": "watermark"},
          "mark": {"type": "text", "align": "left", "baseline": "middle", "fontSize": 13.5, "color": "#8f8f8f"},
          "encoding": {"y": {"field": "p", "type": "quantitative", "title": null}, "text": {"field": "txt"}}
        },
        {
          "data": {"name": "logo"},
          "mark": {"type": "point", "filled": true, "size": 2000, "color": "#bdbdae", "opacity": 0.6,
                   "shape": "M -0.72 -0.2 C -1.0 0.1 -0.95 0.45 -0.55 0.38 L 1 -0.38 L -0.5 0.18 C -0.75 0.26 -0.82 0.05 -0.72 -0.2 Z"},
          "encoding": {"y": {"field": "p", "type": "quantitative", "title": null}}
        },
        {
          "data": {"name": "logo"},
          "mark": {"type": "text", "align": "left", "baseline": "middle", "fontSize": 21, "color": "#cfcfc0"},
          "encoding": {"x": {"field": "tx", "type": "quantitative", "title": null}, "y": {"field": "pt", "type": "quantitative", "title": null}, "text": {"field": "txt"}}
        },
        {
          "data": {"name": "curve"},
          "mark": {"type": "line", "interpolate": "monotone", "color": "#000000", "opacity": 0.22, "strokeWidth": 9, "strokeDash": [24, 11], "strokeCap": "butt", "xOffset": 3, "yOffset": 4},
          "encoding": {"y": {"field": "p", "type": "quantitative", "title": null}}
        },
        {
          "data": {"name": "curve"},
          "mark": {"type": "line", "interpolate": "monotone", "color": "#ff0000", "strokeWidth": 8, "strokeDash": [24, 11], "strokeCap": "butt"},
          "encoding": {"y": {"field": "p", "type": "quantitative", "title": null}}
        },
        {
          "data": {"name": "arrowhead"},
          "mark": {"type": "point", "filled": true, "size": 1681, "color": "#000000", "opacity": 0.22, "xOffset": 3, "yOffset": 4,
                   "shape": "M 0.426 0.905 L 0.5 -1.286 L -1.31 -0.434 Z"},
          "encoding": {"y": {"field": "p", "type": "quantitative", "title": null}}
        },
        {
          "data": {"name": "arrowhead"},
          "mark": {"type": "point", "filled": true, "size": 1681, "color": "#ff0000", "opacity": 1,
                   "shape": "M 0.426 0.905 L 0.5 -1.286 L -1.31 -0.434 Z"},
          "encoding": {"y": {"field": "p", "type": "quantitative", "title": null}}
        },
        {
          "data": {"name": "callouts"},
          "mark": {"type": "rule", "color": "#8a8a8a", "strokeWidth": 2},
          "encoding": {"x": {"field": "px", "type": "quantitative", "title": null}, "x2": {"field": "qx"}, "y": {"field": "py", "type": "quantitative", "title": null}, "y2": {"field": "qy"}}
        },
        {
          "data": {"name": "callouts"},
          "mark": {"type": "rect", "fill": "#b3b3b3", "stroke": "#8a8a8a", "strokeWidth": 1, "cornerRadius": 4},
          "encoding": {"x2": {"field": "t2"}, "y": {"field": "p", "type": "quantitative", "title": null}, "y2": {"field": "p2"}}
        },
        {
          "data": {"name": "callouts"},
          "mark": {"type": "text", "fontSize": 15, "color": "#333333", "baseline": "middle"},
          "encoding": {"x": {"field": "tc", "type": "quantitative", "title": null}, "y": {"field": "pc", "type": "quantitative", "title": null}, "text": {"field": "txt"}}
        },
        {
          "data": {"name": "badge"},
          "mark": {"type": "rect", "fill": "#ff4514", "cornerRadius": 3},
          "encoding": {"x2": {"field": "t2"}, "y": {"field": "p", "type": "quantitative", "title": null}, "y2": {"field": "p2"}}
        },
        {
          "data": {"name": "badge"},
          "mark": {"type": "text", "fontSize": 15, "color": "#ffffff", "baseline": "middle"},
          "encoding": {"x": {"field": "tc", "type": "quantitative", "title": null}, "y": {"field": "pc", "type": "quantitative", "title": null}, "text": {"field": "txt"}}
        },
        {
          "data": {"name": "separators"},
          "mark": {"type": "rule", "color": "#3c3c3c", "strokeWidth": 1},
          "encoding": {"x": {"datum": 0, "type": "quantitative", "title": null}, "x2": {"datum": 1710}, "y": {"field": "p", "type": "quantitative", "title": null}}
        },
        {
          "data": {"name": "headerbox"},
          "mark": {"type": "rule", "color": "#4a4a4a", "strokeWidth": 1},
          "encoding": {"y": {"field": "p", "type": "quantitative", "title": null}, "y2": {"field": "p2"}}
        },
        {
          "data": {"name": "header"},
          "mark": {"type": "text", "align": "left", "baseline": "middle", "fontSize": 14},
          "encoding": {
            "y": {"field": "p", "type": "quantitative", "title": null},
            "text": {"field": "txt"},
            "color": {"condition": {"test": "datum.txt == 'Volume'", "value": "#e8e8e8"}, "value": "#8e8e8e"}
          }
        }
      ]
    },
    {
      "width": 1708,
      "height": 158,
      "view": {"fill": "#ffffcc", "stroke": null},
      "encoding": {
        "x": {
          "field": "t", "type": "quantitative",
          "scale": {"domain": [0, 1708], "nice": false, "zero": false},
          "axis": {"title": null, "grid": true, "labelAlign": "left", "labelOffset": 1, "labelPadding": 3, "labelOverlap": false, "labelFlush": false, "labelColor": "#cfcfcf",
                   "values": [0, 52, 89, 184, 279, 373, 467, 563, 657, 717, 760, 813, 909, 1004, 1098, 1193, 1288, 1382, 1471, 1562, 1637, 1695],
                   "labelExpr": "{'0':'Mon','52':'9','89':'10','184':'11','279':'12','373':'13','467':'14','563':'15','657':'16','717':'Tue','760':'9','813':'10','909':'11','1004':'12','1098':'13','1193':'14','1288':'15','1382':'16','1471':'17','1562':'18','1637':'19','1695':'20'}[datum.value]"}
        }
      },
      "layer": [
        {
          "data": {"name": "candles"},
          "mark": {"type": "bar", "size": 1.6},
          "encoding": {
            "y": {"field": "v", "type": "quantitative", "scale": {"domain": [0, 826], "nice": false},
                  "axis": {"orient": "right", "grid": true, "values": [200, 400, 600, 800], "labelPadding": 7, "title": "<thousands>", "titleAngle": 270, "titleX": 72, "titleY": 80, "titleAlign": "center", "titleBaseline": "middle", "minExtent": 83, "maxExtent": 83}},
            "color": {"condition": {"test": "datum.c > datum.o", "value": "#0d5b8c"}, "value": "#72a2b6"}
          }
        }
      ]
    }
  ]
}
